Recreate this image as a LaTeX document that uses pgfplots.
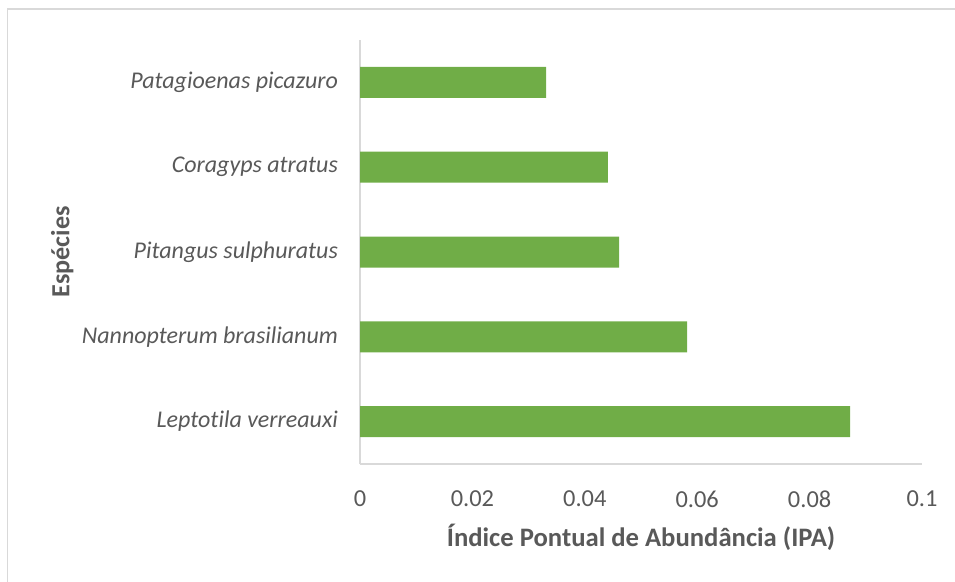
\documentclass[border=0pt]{standalone}
\usepackage{pgfplots}
\pgfplotsset{compat=1.18}
\usepackage{fontspec}
\setmainfont{Carlito}[Ligatures={NoCommon}]
\definecolor{bargreen}{HTML}{70AD47}
\definecolor{txtgray}{HTML}{595959}
\definecolor{axgray}{HTML}{D9D9D9}
\begin{document}
\begin{tikzpicture}[x=0.75pt,y=0.75pt]
\path[use as bounding box] (0,0) rectangle (955,581);
\draw[axgray, line width=0.9pt] (7.5,-5) -- (7.5,572) -- (960,572);
\begin{axis}[
  at={(270pt,87.75pt)}, anchor=south west, scale only axis,
  width=421.5pt, height=318pt,
  xmin=0, xmax=0.1, ymin=0.5, ymax=5.5,
  xbar, bar width=23.25pt,
  axis x line*=bottom, axis y line*=left,
  axis line style={axgray, line width=1pt, -},
  major tick length=0pt,
  xtick={0,0.02,0.04,0.06,0.08,0.1},
  xticklabels={0,0.02,0.04,0.06,0.08,0.1},
  ytick={1,2,3,4,5},
  yticklabels={Leptotila verreauxi, Nannopterum brasilianum, Pitangus sulphuratus, Coragyps atratus, Patagioenas picazuro},
  xticklabel style={font=\fontsize{18.3}{21}\selectfont, text=txtgray, anchor=north, yshift=-16.5pt},
  yticklabel style={font=\fontsize{18}{21}\selectfont\itshape, text=txtgray, anchor=east, xshift=-13pt},
  xlabel={Índice Pontual de Abundância (IPA)},
  ylabel={Espécies},
  xlabel style={font=\fontsize{20}{23}\selectfont\bfseries, text=txtgray, at={(axis description cs:0.5,-0.1934)}, anchor=base},
  ylabel style={font=\fontsize{19.6}{23}\selectfont\bfseries, text=txtgray, at={(axis description cs:-0.530,0.5)}, anchor=center},
  clip=false,
]
\addplot[fill=bargreen, draw=none] coordinates {(0.0872,1) (0.0582,2) (0.0461,3) (0.0441,4) (0.0331,5)};
\end{axis}
\end{tikzpicture}
\end{document}
